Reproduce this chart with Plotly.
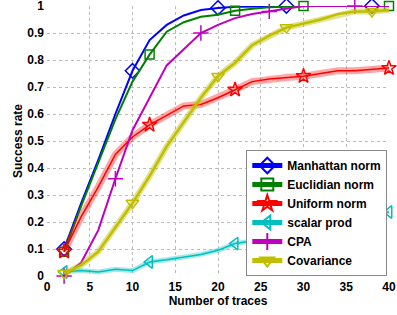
import plotly.graph_objects as go

traces_x = [2, 4, 6, 8, 10, 12, 14, 16, 18, 20, 22, 24, 26, 28, 30, 32, 34, 36, 38, 40]
manhattan = [0.10, 0.27, 0.43, 0.60, 0.76, 0.874, 0.93, 0.965, 0.985, 0.993, 0.997, 0.998, 0.999, 1, 1, 1, 1, 1, 1, 1]
euclidian = [0.09, 0.26, 0.42, 0.58, 0.72, 0.82, 0.905, 0.94, 0.96, 0.968, 0.982, 0.99, 0.995, 0.998, 1, 1, 1, 1, 1, 1]
uniform = [0.09, 0.22, 0.33, 0.45, 0.515, 0.56, 0.595, 0.63, 0.635, 0.66, 0.69, 0.72, 0.73, 0.735, 0.74, 0.75, 0.76, 0.76, 0.765, 0.77]
scalar = [0.015, 0.02, 0.015, 0.025, 0.02, 0.052, 0.06, 0.07, 0.08, 0.095, 0.12, 0.13, 0.15, 0.16, 0.17, 0.18, 0.20, 0.21, 0.22, 0.237]
cpa = [0.0, 0.05, 0.17, 0.36, 0.54, 0.66, 0.78, 0.84, 0.90, 0.93, 0.955, 0.97, 0.98, 0.99, 1, 1, 1, 1, 1, 1]
covariance = [0.01, 0.04, 0.09, 0.18, 0.27, 0.37, 0.48, 0.57, 0.66, 0.74, 0.79, 0.855, 0.89, 0.92, 0.935, 0.95, 0.97, 0.98, 0.98, 0.985]

x_ticks = [0, 5, 10, 15, 20, 25, 30, 35, 40]
y_ticks = [0, 0.1, 0.2, 0.3, 0.4, 0.5, 0.6, 0.7, 0.8, 0.9, 1]
y_tick_labels = ["0", "0.1", "0.2", "0.3", "0.4", "0.5", "0.6", "0.7", "0.8", "0.9", "1"]

names = ["Manhattan norm", "Euclidian norm", "Uniform norm", "scalar prod", "CPA", "Covariance"]
series = [manhattan, euclidian, uniform, scalar, cpa, covariance]
marker_idx = [[0, 4, 9, 13, 18], [0, 5, 10, 14, 19], [0, 5, 10, 14, 19],
              [0, 5, 10, 15, 19], [0, 3, 8, 12, 17], [0, 4, 9, 13, 18]]
colors = ["#0000ff", "#008000", "#ff0000", "#00bfbf", "#bf00bf", "#bfbf00"]
symbols = ["diamond-open", "square-open", "star-open", "triangle-left-open", "cross-thin-open", "triangle-down-open"]
sizes = [11, 9, 11, 11, 11, 11]
bands = [None, None, "rgba(255,0,0,0.35)", "rgba(0,191,191,0.35)", None, "rgba(191,191,0,0.45)"]
band_w = [0, 0, 7, 5, 0, 6]
line_w = [2, 2, 1.5, 1.5, 2, 2.5]

fig = go.Figure()
for i in range(len(names)):
    if bands[i]:
        fig.add_trace(go.Scatter(x=traces_x, y=series[i], mode="lines",
                                 line=dict(color=bands[i], width=band_w[i]),
                                 showlegend=False, hoverinfo="skip", cliponaxis=False))
    fig.add_trace(go.Scatter(
        x=traces_x, y=series[i], mode="lines+markers", name=names[i],
        line=dict(color=colors[i], width=line_w[i]),
        marker=dict(symbol=symbols[i], size=sizes[i], color=colors[i], line=dict(width=1.5, color=colors[i])),
        selectedpoints=marker_idx[i],
        selected=dict(marker=dict(opacity=1)),
        unselected=dict(marker=dict(opacity=0)),
        cliponaxis=False,
    ))

font = dict(family="Liberation Sans, Arial, sans-serif", size=12, color="black", weight="bold")
fig.update_layout(
    width=397, height=315,
    margin=dict(l=46.5, r=8, t=6, b=39, autoexpand=False),
    paper_bgcolor="white", plot_bgcolor="white",
    font=font,
    showlegend=True,
    legend=dict(x=0.995, y=0.0, xanchor="right", yanchor="bottom",
                bgcolor="white", bordercolor="#888888", borderwidth=1,
                font=dict(family="Liberation Sans, Arial, sans-serif", size=12, color="black", weight="bold"),
                itemsizing="constant", itemwidth=30, tracegroupgap=0),
    xaxis=dict(range=[0, 40], tickvals=x_ticks, showgrid=True, gridcolor="#bbbbbb", griddash="dot",
               zeroline=False, showline=False, ticks="", tickfont=font, automargin=False,
               ticklabeloverflow="allow", ticklabelstandoff=2,
               title=dict(text="Number of traces", font=font, standoff=0)),
    yaxis=dict(range=[0, 1], tickvals=y_ticks, ticktext=y_tick_labels, showgrid=True,
               gridcolor="#bbbbbb", griddash="dot", automargin=False,
               ticklabeloverflow="allow", ticklabelstandoff=2,
               zeroline=False, showline=False, ticks="", tickfont=font,
               title=dict(text="Success rate", font=font, standoff=2)),
)
fig.write_html("out.html", config={"displayModeBar": False},
               post_script="document.body.style.margin='0';")
